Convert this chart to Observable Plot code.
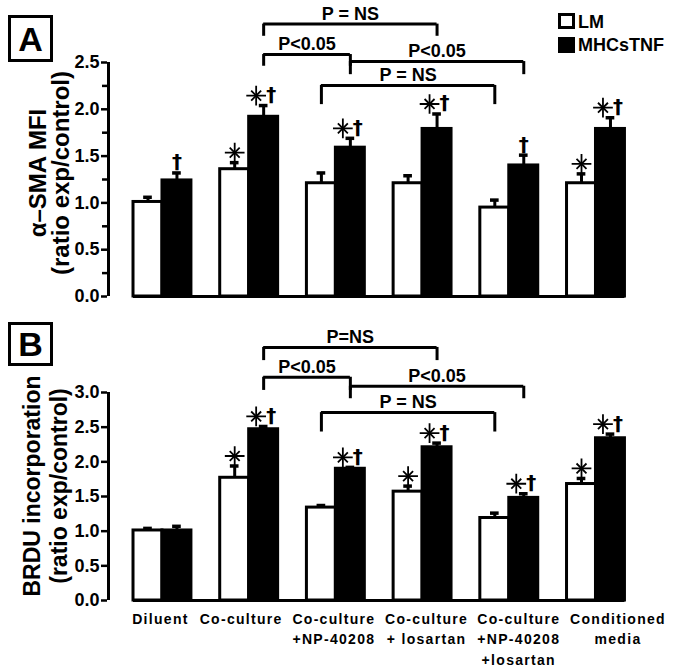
<!DOCTYPE html>
<html><head><meta charset="utf-8">
<script src="https://cdn.jsdelivr.net/npm/d3@7"></script>
<script src="https://cdn.jsdelivr.net/npm/@observablehq/plot@0.6"></script>
<style>
body{margin:0;background:#fff;font-family:"Liberation Sans",Arial,sans-serif;}
#wrap{position:relative;width:673px;height:669px;overflow:hidden;background:#fff;}
.plot{position:absolute;left:0;}
.box{position:absolute;border:3px solid #000;box-sizing:border-box;font-weight:bold;font-size:34px;display:flex;align-items:center;justify-content:center;line-height:1;}
.ytitle{position:absolute;transform:translate(-50%,-50%) rotate(-90deg);white-space:nowrap;font-weight:bold;text-align:center;}
.leg{position:absolute;font-weight:bold;font-size:18px;line-height:18px;}
.sw{position:absolute;width:17px;height:16px;box-sizing:border-box;border:3px solid #000;}
g[font-size="14"] text{letter-spacing:1.3px;}
</style></head><body><div id="wrap"></div>
<script>
// ---- data ----
const groups = ["Diluent","Co-culture","Co-culture\n+NP-40208","Co-culture\n+ losartan","Co-culture\n+NP-40208\n+losartan","Conditioned\nmedia"];
const seriesNames = ["LM","MHCsTNF"];

// Panel A: alpha-SMA MFI
const smaLM      = [1.01, 1.36, 1.21, 1.21, 0.95, 1.21];
const smaLMErr   = [0.05, 0.07, 0.11, 0.08, 0.08, 0.10];
const smaTNF     = [1.24, 1.92, 1.59, 1.79, 1.40, 1.79];
const smaTNFErr  = [0.08, 0.12, 0.10, 0.16, 0.11, 0.12];
const smaLMSig   = ["", "*", "", "", "", "*"];
const smaTNFSig  = ["†", "*†", "*†", "*†", "†", "*†"];
const smaTicks   = [0, 0.5, 1.0, 1.5, 2.0, 2.5];
const smaMinor   = [0.25, 0.75, 1.25, 1.75, 2.25];
const smaBrackets = [
  {label: "P = NS", g1: 1, s1: 1, g2: 3, s2: 1, top: 2.91, drop: 2.78},
  {label: "P<0.05", g1: 1, s1: 1, g2: 2, s2: 1, top: 2.585, drop: 2.46},
  {label: "P<0.05", g1: 2, s1: 1, g2: 4, s2: 1, top: 2.51, drop: 2.37},
  {label: "P = NS", g1: 2, s1: 0, g2: 4, s2: 0, top: 2.255, drop: 2.05}
];

// Panel B: BRDU incorporation
const brduLM     = [1.01, 1.77, 1.34, 1.57, 1.19, 1.68];
const brduLMErr  = [0.03, 0.17, 0.03, 0.08, 0.07, 0.08];
const brduTNF    = [1.01, 2.47, 1.90, 2.21, 1.48, 2.34];
const brduTNFErr = [0.06, 0.04, 0.02, 0.06, 0.06, 0.06];
const brduLMSig  = ["", "*", "", "*", "", "*"];
const brduTNFSig = ["", "*†", "*†", "*†", "*†", "*†"];
const brduTicks  = [0, 0.5, 1.0, 1.5, 2.0, 2.5, 3.0];
const brduBrackets = [
  {label: "P=NS",   g1: 1, s1: 1, g2: 3, s2: 1, top: 3.65, drop: 3.46},
  {label: "P<0.05", g1: 1, s1: 1, g2: 2, s2: 1, top: 3.22, drop: 3.03},
  {label: "P<0.05", g1: 2, s1: 1, g2: 4, s2: 1, top: 3.09, drop: 2.91},
  {label: "P = NS", g1: 2, s1: 0, g2: 4, s2: 0, top: 2.71, drop: 2.43}
];

// ---- drawing ----
const W = 673, ML = 107;
const BW = 0.334;               // bar width in group units
const XDOM = [-0.634, 5.894];
const PX = (W - ML) / (XDOM[1] - XDOM[0]);       // pixels per group unit
const labelNudge = [-2, -8, -2, 4, 9.5, 22];     // px shift of category labels
const center = (g, s) => g + (s === 0 ? -BW / 2 : BW / 2);

function panel({lm, lmErr, tnf, tnfErr, lmSig, tnfSig, yMax, ticks, minor, brackets, height, marginTop, marginBottom, showX}) {
  const rows = [];
  groups.forEach((g, i) => {
    rows.push({s: 0, x1: i - BW, x2: i, c: center(i, 0), v: lm[i], e: lm[i] + lmErr[i], sig: lmSig[i]});
    rows.push({s: 1, x1: i, x2: i + BW, c: center(i, 1), v: tnf[i], e: tnf[i] + tnfErr[i], sig: tnfSig[i]});
  });
  const stars = rows.filter(d => d.sig.includes("*"));
  const daggers = rows.filter(d => d.sig.includes("†"));
  const starX = d => d.c + (d.sig.includes("†") ? -7.5 : 0) / PX;
  const dagX = d => d.c + (d.sig.includes("*") ? 7.5 : 0) / PX;
  const br = brackets.map(b => ({...b, xa: center(b.g1, b.s1), xb: center(b.g2, b.s2)}));
  const ends = br.flatMap(b => [{x: b.xa, top: b.top, drop: b.drop}, {x: b.xb, top: b.top, drop: b.drop}]);
  const marks = [
    // error bars (upper only)
    Plot.ruleX(rows, {x: "c", y1: "v", y2: "e", stroke: "black", strokeWidth: 3}),
    Plot.ruleY(rows, {x1: d => d.c - 0.05, x2: d => d.c + 0.05, y: "e", stroke: "black", strokeWidth: 3.5}),
    // bars
    Plot.rectY(rows, {x1: "x1", x2: "x2", y1: 0, y2: "v", fill: d => d.s === 0 ? "white" : "black", stroke: "black", strokeWidth: 3}),
    // baseline & y axis line
    Plot.ruleY([0], {x1: -BW, x2: groups.length - 1 + BW, stroke: "black", strokeWidth: 3}),
    Plot.ruleX([XDOM[0]], {y1: 0, y2: yMax, stroke: "black", strokeWidth: 3, dx: 1}),
    Plot.axisY(ticks, {anchor: "left", tickSize: 6, tickPadding: 2, strokeWidth: 2.5, tickFormat: d3.format(".1f"), fontSize: 18, fontWeight: "bold", label: null}),
    // significance symbols: 8-armed asterisk (plus + times) and dagger
    Plot.dot(stars, {x: starX, y: "e", symbol: "plus", r: 6.4, stroke: "black", strokeWidth: 1.8, dy: -10}),
    Plot.dot(stars, {x: starX, y: "e", symbol: "times", r: 4.6, stroke: "black", strokeWidth: 1.8, dy: -10}),
    Plot.text(daggers, {x: dagX, y: "e", text: () => "†", dy: -11, lineAnchor: "middle", fontSize: 20, fontWeight: "bold", fontFamily: "DejaVu Sans", fill: "black"}),
    // brackets
    Plot.ruleY(br, {x1: "xa", x2: "xb", y: "top", stroke: "black", strokeWidth: 3}),
    Plot.ruleX(ends, {x: "x", y1: "top", y2: "drop", stroke: "black", strokeWidth: 3}),
    Plot.text(br, {x: d => (d.xa + d.xb) / 2, y: "top", text: "label", dy: -10, lineAnchor: "middle", fontSize: 18, fontWeight: "bold", fill: "black"})
  ];
  if (minor) marks.push(Plot.axisY(minor, {anchor: "left", tickSize: 5, strokeWidth: 2.5, tickFormat: () => "", label: null}));
  if (showX) marks.push(Plot.text(d3.range(groups.length), {x: i => i + labelNudge[i] / PX, y: () => 0, text: i => groups[i], dy: 9, lineAnchor: "top", fontSize: 14, fontWeight: "bold", lineHeight: 1.45, fill: "black"}));
  return Plot.plot({
    width: W, height, marginLeft: ML, marginRight: 0, marginTop, marginBottom,
    x: {type: "linear", domain: XDOM, axis: null},
    y: {domain: [0, yMax], axis: null},
    style: {fontFamily: "'Liberation Sans', Arial, sans-serif", color: "black", background: "white", overflow: "visible"},
    marks
  });
}

const wrap = document.getElementById("wrap");
const A = panel({lm: smaLM, lmErr: smaLMErr, tnf: smaTNF, tnfErr: smaTNFErr, lmSig: smaLMSig, tnfSig: smaTNFSig,
  yMax: 2.5, ticks: smaTicks, minor: smaMinor, brackets: smaBrackets, height: 310, marginTop: 62, marginBottom: 14, showX: false});
A.classList.add("plot"); A.style.top = "0px";
const B = panel({lm: brduLM, lmErr: brduLMErr, tnf: brduTNF, tnfErr: brduTNFErr, lmSig: brduLMSig, tnfSig: brduTNFSig,
  yMax: 3.0, ticks: brduTicks, minor: null, brackets: brduBrackets, height: 359, marginTop: 82, marginBottom: 69, showX: true});
B.classList.add("plot"); B.style.top = "310px";
wrap.appendChild(A); wrap.appendChild(B);

function el(cls, css, html) { const d = document.createElement("div"); d.className = cls; Object.assign(d.style, css); d.innerHTML = html; wrap.appendChild(d); return d; }
el("box", {left: "8px", top: "15px", width: "45px", height: "47px"}, "A");
el("box", {left: "8px", top: "322px", width: "45px", height: "44px"}, "B");
el("ytitle", {left: "49px", top: "173px", fontSize: "24px", lineHeight: "23px"}, "α–SMA MFI<br>(ratio exp/control)");
el("ytitle", {left: "46px", top: "486px", fontSize: "23px", lineHeight: "27px"}, "BRDU incorporation<br>(ratio exp/control)");
el("sw", {left: "558px", top: "13px", background: "white"}, "");
el("sw", {left: "558px", top: "37px", background: "black"}, "");
el("leg", {left: "578px", top: "13px"}, seriesNames[0]);
el("leg", {left: "578px", top: "36px"}, seriesNames[1]);
</script></body></html>
